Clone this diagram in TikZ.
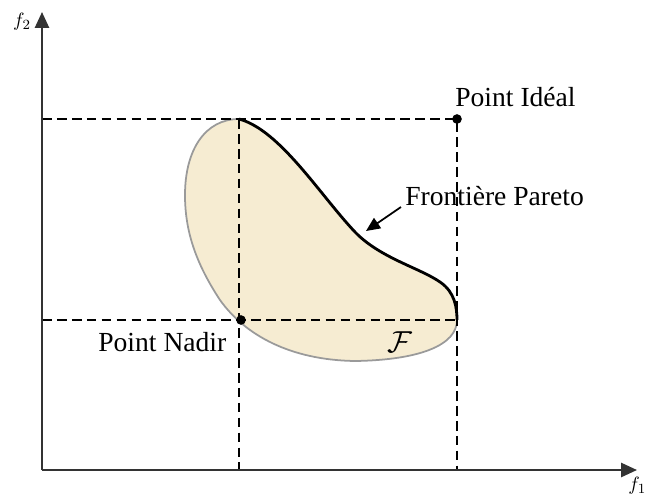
\documentclass[tikz,border=0pt]{standalone}
\usepackage{fontspec}
\setmainfont{Liberation Serif}
\usetikzlibrary{arrows.meta}
\definecolor{blobfill}{HTML}{F6ECD2}
\definecolor{blobline}{HTML}{9A9A9A}
\tikzset{
  axis/.style={line width=1.2pt, draw=black!80, -{Triangle[length=9pt,width=8pt]}},
  guide/.style={line width=0.8pt, dash pattern=on 5.5pt off 3pt},
  lbl/.style={font=\fontsize{15.7}{18}\selectfont, inner sep=0pt},
  dot/.style={circle, fill=black, inner sep=0pt, minimum size=5.5pt},
}
\begin{document}
\begin{tikzpicture}[x=0.02cm,y=-0.02cm]
\useasboundingbox (0,0) rectangle (647,495);
% coordinates
\coordinate (O) at (42,470);
\coordinate (Ytop) at (42,12);
\coordinate (Xend) at (637,470);
\coordinate (Top) at (239,119);
\coordinate (Right) at (457,320);
\coordinate (YI) at (42,119);
\coordinate (YN) at (42,320);
\coordinate (XN) at (239,470);
\coordinate (XI) at (457,470);
% blob
\fill[blobfill] (Top) .. controls (280,130) and (320,195) .. (355,232)
   .. controls (380,258) and (420,268) .. (440,282)
   .. controls (455,292) and (457,308) .. (Right)
   .. controls (457,345) and (420,360) .. (355,361)
   .. controls (290,360) and (245,335) .. (220,300)
   .. controls (195,262) and (185,230) .. (185,195)
   .. controls (185,150) and (205,119) .. (Top) -- cycle;
\draw[blobline, line width=1pt] (Right)
   .. controls (457,345) and (420,360) .. (355,361)
   .. controls (290,360) and (245,335) .. (220,300)
   .. controls (195,262) and (185,230) .. (185,195)
   .. controls (185,150) and (205,119) .. (Top);
\draw[line width=1.6pt] (Top) .. controls (280,130) and (320,195) .. (355,232)
   .. controls (380,258) and (420,268) .. (440,282)
   .. controls (455,292) and (457,308) .. (Right);
% guides
\draw[guide] (YI) -- (457,119) -- (XI);
\draw[guide] (YN) -- (Right);
\draw[guide] (Top) -- (XN);
% axes
\draw[axis] (O) -- (Ytop);
\draw[axis] (O) -- (Xend);
% dots
\node[dot] (ideal) at (457,119) {};
\node[dot] (nadir) at (241,320) {};
% labels
\node[font=\fontsize{11}{12}\selectfont, inner sep=0pt] (f2) at (22,22) {$f_2$};
\node[font=\fontsize{11}{12}\selectfont, inner sep=0pt, anchor=north west] (f1) at (628,477) {$f_1$};
\node[lbl, anchor=west] (lideal) at (455,97) {Point Idéal};
\node[lbl, anchor=west] (lfront) at (405,196) {Frontière Pareto};
\node[lbl, anchor=west] (lnadir) at (98,342) {Point Nadir};
\node[font=\fontsize{17}{20}\selectfont, inner sep=0pt] (lF) at (400,342) {$\mathcal{F}$};
\coordinate (arrtip) at (366,231);
\draw[line width=1pt, -{Triangle[length=8pt,width=7pt]}] (401,207) -- (arrtip);
\end{tikzpicture}
\end{document}
